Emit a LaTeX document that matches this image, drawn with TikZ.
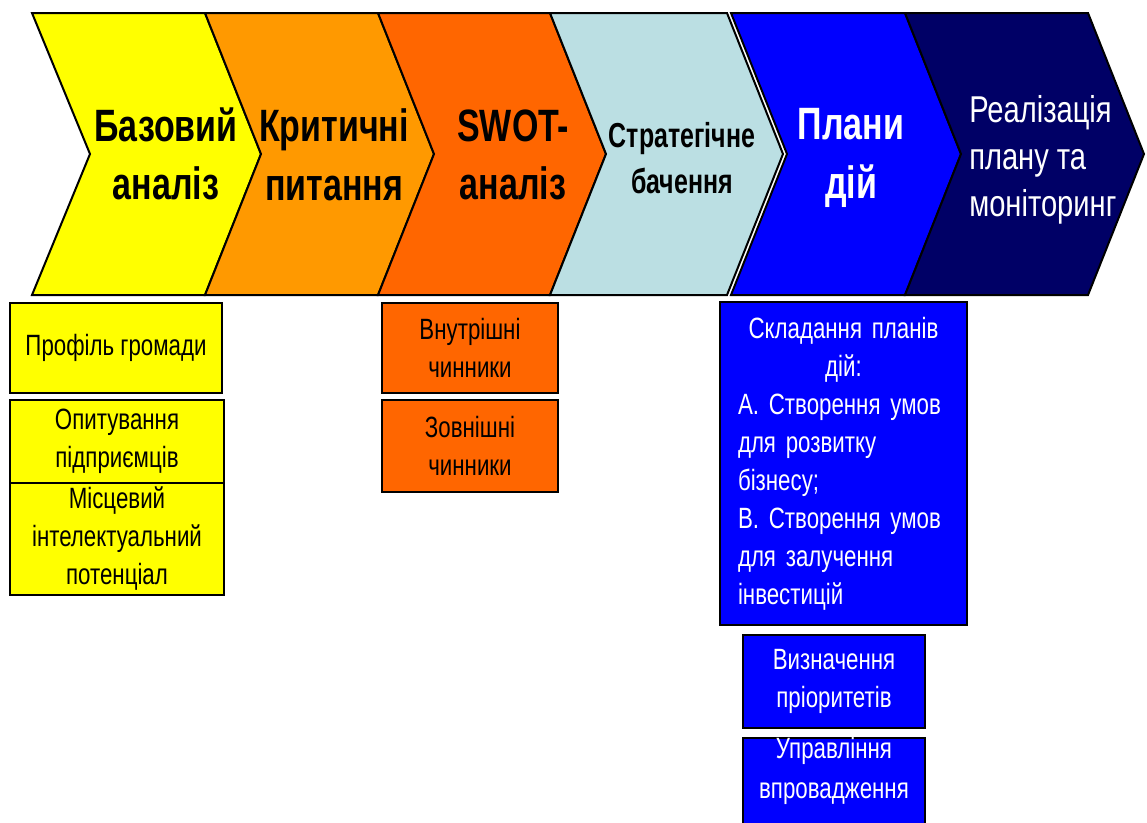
\documentclass[tikz,border=0pt]{standalone}
\usepackage{fontspec}
\setmainfont{Liberation Sans}
\newfontfamily\chevfont[FakeStretch=0.75]{Liberation Sans}
\newfontfamily\stratfont[FakeStretch=0.72]{Liberation Sans}
\newfontfamily\realfont[FakeStretch=0.78]{Liberation Sans}
\newfontfamily\boxfont[FakeStretch=0.76]{Liberation Sans}
\usepackage{xcolor}

\begin{document}
\begin{tikzpicture}[x=0.75pt,y=0.75pt,yscale=-1,
    chev/.style={draw=black, line width=1.5pt, line join=miter},
    chevtxt/.style={inner sep=0pt, align=center, font=\chevfont\bfseries\fontsize{34}{44}\selectfont},
    stepbox/.style={draw=black, line width=1.5pt, inner sep=0pt, align=center, font=\boxfont\fontsize{22}{28.5}\selectfont}]
        \path [use as bounding box] (0,0) rectangle (1147,822);
        \clip (0,0) rectangle (1147,822);

        %Shape: Chevron [Базовий аналіз]
        \draw  [chev, fill={rgb, 255:red, 255; green, 255; blue, 0 }] (32,13) -- (205,13) -- (261,154) -- (205,295) -- (32,295) -- (90,154) -- cycle ;
        %Shape: Chevron [Критичні питання]
        \draw  [chev, fill={rgb, 255:red, 255; green, 153; blue, 0 }] (205,13) -- (378,13) -- (434,154) -- (378,295) -- (205,295) -- (261,154) -- cycle ;
        %Shape: Chevron [SWOT-аналіз]
        \draw  [chev, fill={rgb, 255:red, 255; green, 102; blue, 0 }] (378,13) -- (550,13) -- (606,154) -- (550,295) -- (378,295) -- (434,154) -- cycle ;
        %Shape: Chevron [Стратегічне бачення]
        \draw  [chev, fill={rgb, 255:red, 187; green, 223; blue, 227 }] (550,13) -- (727,13) -- (783,154) -- (727,295) -- (550,295) -- (606,154) -- cycle ;
        %Shape: Chevron [Плани дій]
        \draw  [chev, fill={rgb, 255:red, 0; green, 0; blue, 255 }] (731,13) -- (905,13) -- (961,154) -- (905,295) -- (731,295) -- (787,154) -- cycle ;
        %Shape: Chevron [Реалізація]
        \draw  [chev, fill={rgb, 255:red, 0; green, 0; blue, 102 }] (905,13) -- (1088,13) -- (1144,154) -- (1088,295) -- (905,295) -- (961,154) -- cycle ;

        % Text Node
        \draw (166,154) node (bazovyi) [chevtxt] {Базовий\\аналіз};
        % Text Node
        \draw (334,155) node (krytychni) [chevtxt] {Критичні\\питання};
        % Text Node
        \draw (513,155) node (swot) [chevtxt] {SWOT-\\аналіз};
        % Text Node
        \draw (682,158) node (stratehiya) [inner sep=0pt, align=center, font=\stratfont\bfseries\fontsize{26}{34}\selectfont] {Стратегічне\\бачення};
        % Text Node
        \draw (851,158) node (plany) [chevtxt, text=white] {Плани\\дій};
        % Text Node
        \draw (969,160) node (realizatsiya) [anchor=west, inner sep=0pt, align=left, text=white, font=\realfont\fontsize{28}{35}\selectfont] {Реалізація\\плану та\\моніторинг};

        %Shape: Rectangle [Базовий аналіз]
        \draw (116,348) node (profil) [stepbox, fill={rgb, 255:red, 255; green, 255; blue, 0 }, minimum width=159pt, minimum height=67.5pt] {Профіль громади};
        \draw (117,441.5) node (opytuvannya) [stepbox, fill={rgb, 255:red, 255; green, 255; blue, 0 }, minimum width=160.5pt, minimum height=62.25pt] {Опитування\\підприємців};
        \draw (117,539) node (potentsial) [stepbox, fill={rgb, 255:red, 255; green, 255; blue, 0 }, minimum width=160.5pt, minimum height=84pt] {Місцевий\\інтелектуальний\\потенціал};

        %Shape: Rectangle [SWOT-аналіз]
        \draw (470,348) node (vnutrishni) [stepbox, fill={rgb, 255:red, 255; green, 102; blue, 0 }, minimum width=132pt, minimum height=67.5pt] {Внутрішні\\чинники};
        \draw (470,446) node (zovnishni) [stepbox, fill={rgb, 255:red, 255; green, 102; blue, 0 }, minimum width=132pt, minimum height=69pt] {Зовнішні\\чинники};

        %Shape: Rectangle [Плани дій]
        \draw (843.5,463.5) node (skladannya) [stepbox, fill={rgb, 255:red, 0; green, 0; blue, 255 }, text=white, minimum width=185.25pt, minimum height=242.25pt, text width=158.25pt, align=left] {{\centering Складання планів\\дій:\par}\raggedright А. Створення умов\\для розвитку\\бізнесу;\\В. Створення умов\\для залучення\\інвестицій};
        \draw (834,681.5) node (priorytety) [stepbox, fill={rgb, 255:red, 0; green, 0; blue, 255 }, text=white, minimum width=136.5pt, minimum height=69.75pt] {Визначення\\пріоритетів};
        \draw (834,793) node (upravlinnya) [stepbox, fill={rgb, 255:red, 0; green, 0; blue, 255 }, minimum width=136.5pt, minimum height=82.5pt] {};
        % Text Node
        \draw (834,737) node (upravtxt) [anchor=north, inner sep=0pt, align=center, text=white, font=\boxfont\fontsize{22}{30}\selectfont] {Управління\\впровадження};

\end{tikzpicture}
\end{document}
